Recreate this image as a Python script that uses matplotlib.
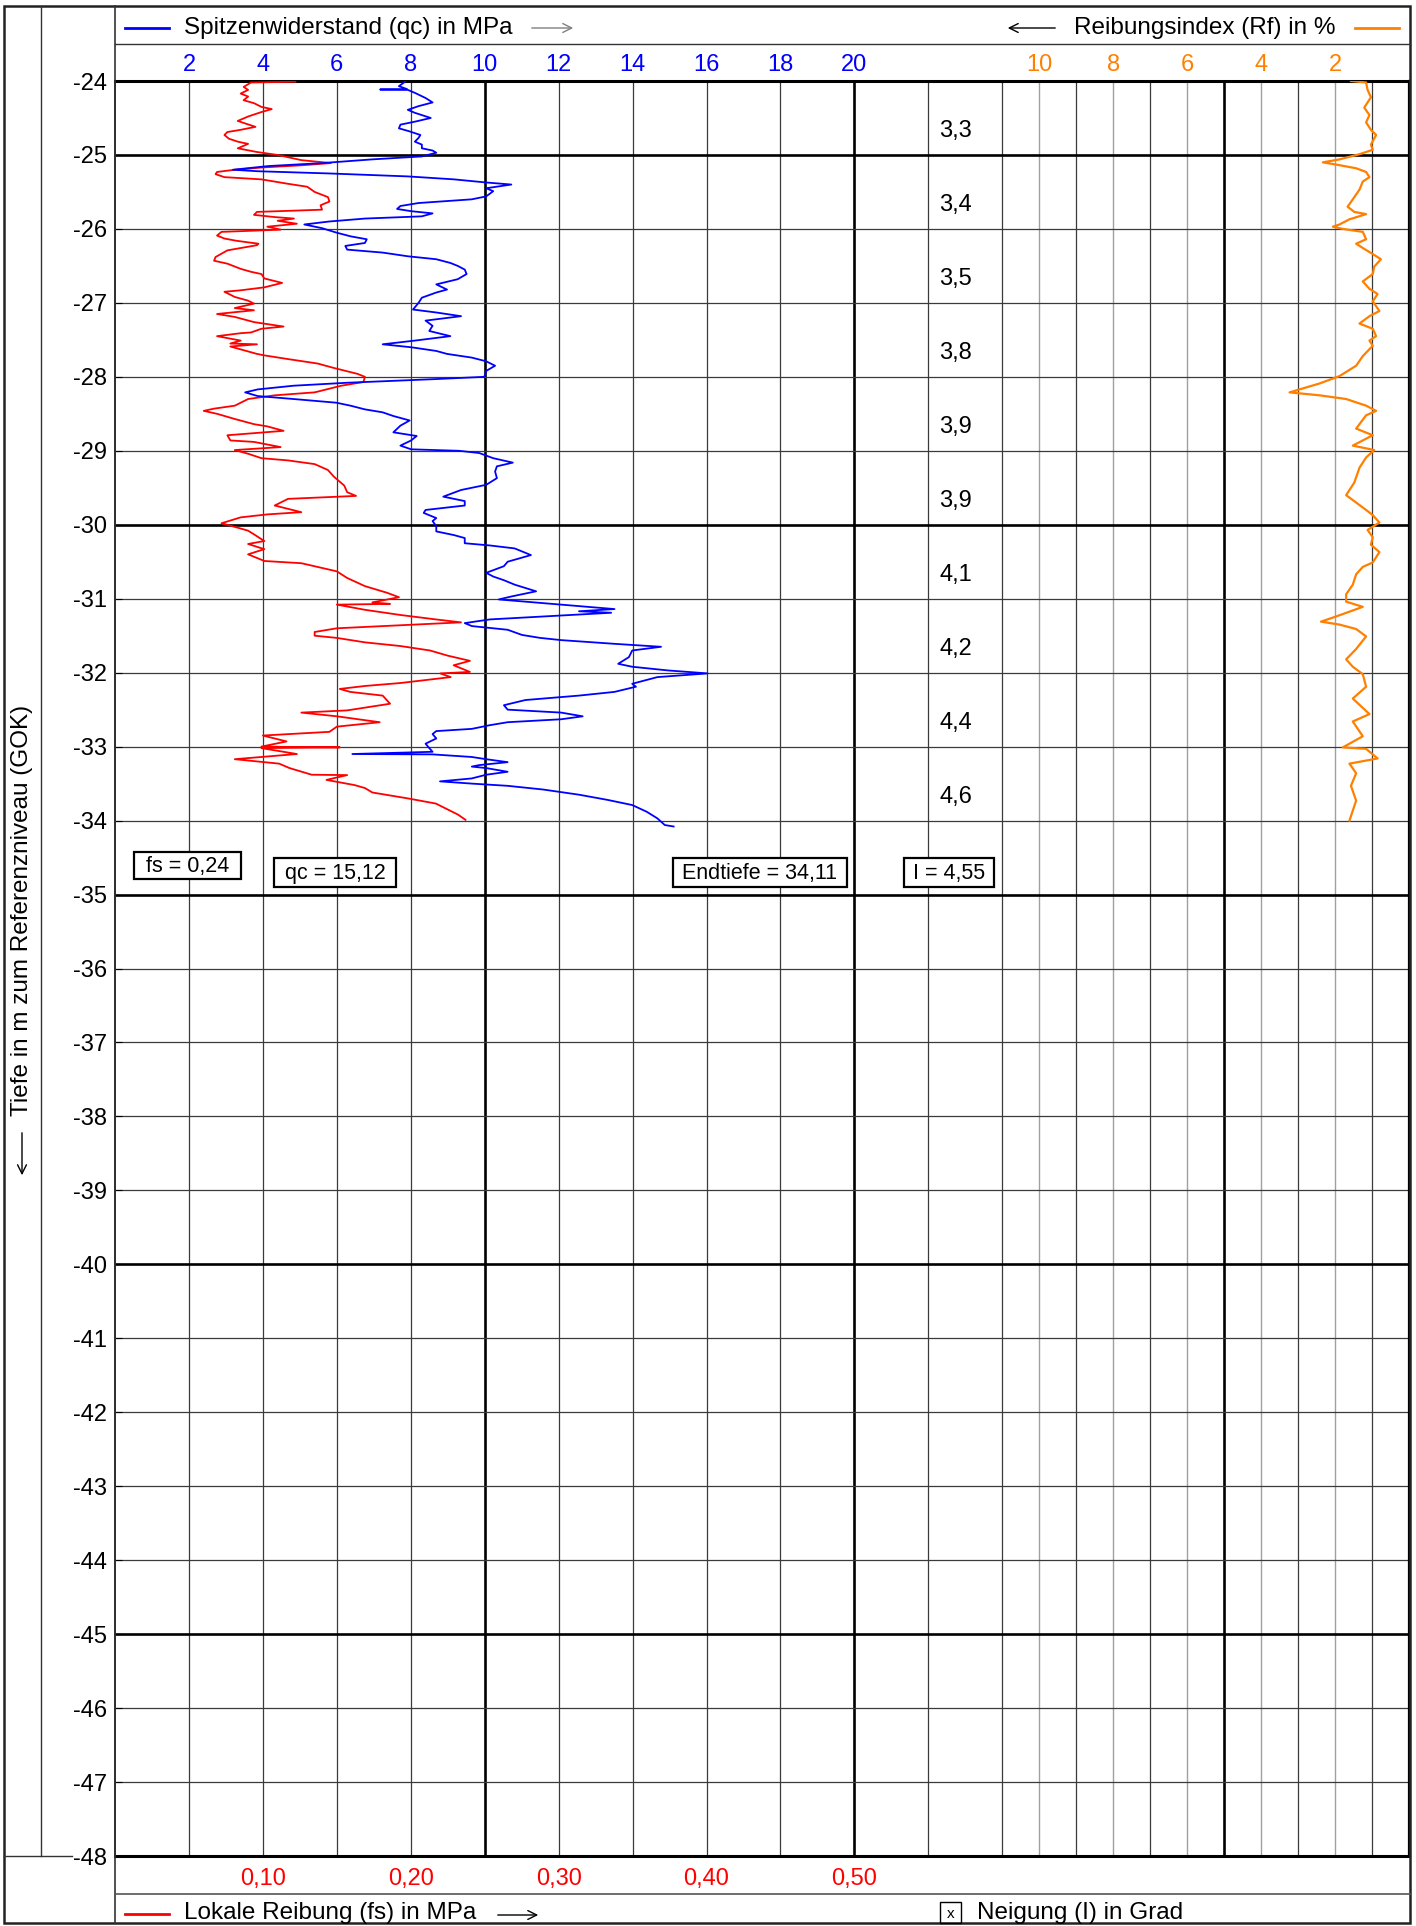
import numpy as np
import matplotlib
matplotlib.use('Agg')
import matplotlib.pyplot as plt
from matplotlib.patches import Rectangle
from matplotlib.ticker import FuncFormatter

plt.rcParams['font.family'] = ['Liberation Sans', 'DejaVu Sans']
plt.rcParams['axes.unicode_minus'] = False

# ---- data (read off the CPT log) ----
# cone resistance qc in MPa
qc_depth = [-24.00, -24.07, -24.11, -24.115, -24.12, -24.16, -24.23, -24.29, -24.34, -24.39,
            -24.43, -24.50, -24.55, -24.59, -24.64, -24.68, -24.73, -24.77, -24.82, -24.86,
            -24.91, -24.94, -24.97, -25.02, -25.06, -25.11, -25.15, -25.20, -25.22, -25.25,
            -25.29, -25.33, -25.37, -25.40, -25.45, -25.49, -25.56, -25.60, -25.65, -25.69,
            -25.73, -25.76, -25.79, -25.83, -25.86, -25.90, -25.94, -25.99, -26.05, -26.10,
            -26.14, -26.19, -26.23, -26.28, -26.32, -26.37, -26.41, -26.46, -26.50, -26.55,
            -26.61, -26.68, -26.75, -26.82, -26.86, -26.93, -27.00, -27.09, -27.13, -27.18,
            -27.24, -27.31, -27.38, -27.45, -27.51, -27.56, -27.60, -27.65, -27.69, -27.74,
            -27.79, -27.85, -27.92, -28.00, -28.03, -28.08, -28.12, -28.17, -28.21, -28.26,
            -28.30, -28.35, -28.39, -28.44, -28.48, -28.53, -28.59, -28.66, -28.75, -28.80,
            -28.86, -28.93, -28.98, -29.00, -29.03, -29.10, -29.16, -29.21, -29.28, -29.37,
            -29.46, -29.53, -29.62, -29.68, -29.74, -29.80, -29.84, -29.91, -29.95, -30.02,
            -30.09, -30.14, -30.18, -30.25, -30.28, -30.32, -30.41, -30.50, -30.56, -30.65,
            -30.70, -30.75, -30.81, -30.90, -30.97, -31.01, -31.08, -31.14, -31.17, -31.19,
            -31.24, -31.28, -31.33, -31.37, -31.42, -31.49, -31.53, -31.56, -31.61, -31.65,
            -31.70, -31.79, -31.88, -31.92, -31.97, -32.01, -32.06, -32.15, -32.19, -32.26,
            -32.31, -32.37, -32.44, -32.50, -32.54, -32.59, -32.63, -32.67, -32.71, -32.76,
            -32.79, -32.83, -32.89, -32.96, -33.02, -33.07, -33.10, -33.105, -33.14, -33.17,
            -33.21, -33.25, -33.27, -33.29, -33.34, -33.38, -33.43, -33.47, -33.50, -33.53,
            -33.58, -33.65, -33.72, -33.79, -33.88, -33.97, -34.06, -34.08]
qc_val = [7.87, 7.68, 7.90, 7.17, 7.92, 8.11, 8.40, 8.59, 8.21, 7.92,
          8.11, 8.54, 8.11, 7.72, 7.68, 7.96, 8.26, 8.21, 8.11, 8.30,
          8.30, 8.59, 8.69, 8.30, 6.95, 5.60, 4.15, 3.19, 3.86, 5.79,
          7.92, 9.17, 9.99, 10.72, 10.04, 10.23, 10.04, 9.65, 8.21, 7.72,
          7.63, 8.01, 8.59, 8.30, 6.76, 5.79, 5.12, 5.60, 5.99, 6.37,
          6.81, 6.76, 6.23, 6.28, 7.24, 7.92, 8.69, 9.07, 9.27, 9.46,
          9.51, 9.27, 8.69, 8.98, 8.69, 8.30, 8.21, 8.06, 8.69, 9.36,
          8.40, 8.59, 8.50, 9.07, 8.11, 7.24, 8.01, 8.69, 8.98, 9.65,
          10.04, 10.28, 10.04, 9.99, 8.69, 6.28, 4.83, 3.86, 3.52, 3.86,
          4.83, 5.99, 6.37, 6.76, 7.24, 7.53, 7.97, 7.72, 7.53, 8.16,
          8.01, 7.72, 8.01, 9.30, 9.85, 10.23, 10.76, 10.33, 10.28, 10.33,
          10.04, 9.36, 8.88, 9.46, 9.46, 8.40, 8.35, 8.69, 8.59, 8.69,
          8.69, 9.17, 9.46, 9.46, 10.14, 10.81, 11.25, 10.62, 10.52, 10.04,
          10.23, 10.52, 10.81, 11.39, 10.72, 10.38, 12.07, 13.51, 12.55, 13.42,
          11.58, 10.14, 9.46, 9.65, 10.62, 11.01, 11.50, 12.07, 13.51, 14.77,
          13.99, 13.90, 13.61, 13.99, 14.96, 16.03, 14.67, 13.99, 14.09, 13.51,
          12.55, 11.10, 10.52, 10.62, 12.07, 12.65, 12.07, 10.62, 10.14, 9.65,
          8.69, 8.59, 8.69, 8.40, 8.50, 8.59, 6.42, 8.59, 9.65, 10.04,
          10.62, 9.85, 9.65, 10.04, 10.62, 10.04, 9.65, 8.79, 9.65, 10.62,
          11.58, 12.55, 13.32, 13.99, 14.38, 14.67, 14.87, 15.11]

# local friction fs in MPa
fs_depth = [-24.01, -24.02, -24.08, -24.12, -24.17, -24.21, -24.26, -24.30, -24.35, -24.38,
            -24.42, -24.48, -24.54, -24.62, -24.66, -24.69, -24.73, -24.78, -24.82, -24.85,
            -24.91, -24.96, -25.00, -25.07, -25.11, -25.14, -25.17, -25.20, -25.23, -25.26,
            -25.30, -25.33, -25.39, -25.43, -25.50, -25.57, -25.63, -25.68, -25.74, -25.77,
            -25.81, -25.84, -25.86, -25.89, -25.93, -25.97, -26.01, -26.04, -26.09, -26.13,
            -26.16, -26.20, -26.22, -26.29, -26.38, -26.43, -26.47, -26.54, -26.58, -26.61,
            -26.67, -26.73, -26.79, -26.83, -26.85, -26.92, -26.97, -27.01, -27.07, -27.10,
            -27.15, -27.19, -27.26, -27.32, -27.35, -27.40, -27.41, -27.45, -27.51, -27.55,
            -27.56, -27.59, -27.69, -27.71, -27.76, -27.82, -27.88, -27.96, -28.00, -28.07,
            -28.12, -28.21, -28.25, -28.30, -28.39, -28.43, -28.46, -28.50, -28.57, -28.64,
            -28.67, -28.73, -28.79, -28.86, -28.88, -28.95, -28.99, -29.04, -29.10, -29.13,
            -29.18, -29.26, -29.35, -29.47, -29.56, -29.61, -29.65, -29.74, -29.83, -29.86,
            -29.90, -29.98, -30.04, -30.08, -30.13, -30.22, -30.26, -30.33, -30.40, -30.49,
            -30.52, -30.63, -30.72, -30.83, -30.92, -30.98, -31.05, -31.07, -31.08, -31.15,
            -31.22, -31.28, -31.32, -31.40, -31.45, -31.50, -31.53, -31.59, -31.64, -31.70,
            -31.77, -31.84, -31.90, -31.99, -32.01, -32.06, -32.14, -32.18, -32.22, -32.26,
            -32.31, -32.42, -32.51, -32.54, -32.59, -32.67, -32.73, -32.80, -32.85, -32.93,
            -33.00, -33.01, -33.02, -33.10, -33.17, -33.23, -33.29, -33.38, -33.385, -33.45,
            -33.52, -33.56, -33.62, -33.70, -33.77, -33.92, -33.99]
fs_val = [0.122, 0.092, 0.087, 0.090, 0.085, 0.090, 0.087, 0.094, 0.099, 0.106,
          0.099, 0.090, 0.083, 0.095, 0.085, 0.076, 0.074, 0.077, 0.083, 0.090,
          0.083, 0.096, 0.110, 0.126, 0.146, 0.126, 0.099, 0.081, 0.069, 0.068,
          0.074, 0.099, 0.117, 0.130, 0.135, 0.144, 0.145, 0.139, 0.140, 0.096,
          0.094, 0.108, 0.121, 0.110, 0.123, 0.103, 0.112, 0.072, 0.069, 0.074,
          0.082, 0.097, 0.096, 0.076, 0.068, 0.067, 0.076, 0.085, 0.092, 0.099,
          0.101, 0.113, 0.101, 0.085, 0.074, 0.081, 0.090, 0.094, 0.081, 0.094,
          0.069, 0.081, 0.094, 0.114, 0.099, 0.092, 0.085, 0.069, 0.085, 0.078,
          0.096, 0.078, 0.096, 0.101, 0.117, 0.137, 0.148, 0.164, 0.169, 0.168,
          0.153, 0.135, 0.108, 0.090, 0.081, 0.067, 0.060, 0.069, 0.081, 0.094,
          0.103, 0.114, 0.076, 0.078, 0.094, 0.112, 0.081, 0.090, 0.099, 0.117,
          0.135, 0.144, 0.148, 0.155, 0.157, 0.163, 0.117, 0.108, 0.126, 0.103,
          0.085, 0.072, 0.083, 0.090, 0.094, 0.101, 0.090, 0.101, 0.090, 0.101,
          0.126, 0.150, 0.157, 0.169, 0.184, 0.192, 0.174, 0.186, 0.150, 0.169,
          0.193, 0.217, 0.234, 0.150, 0.135, 0.135, 0.150, 0.169, 0.193, 0.213,
          0.225, 0.240, 0.229, 0.240, 0.220, 0.227, 0.193, 0.169, 0.152, 0.159,
          0.181, 0.186, 0.157, 0.126, 0.150, 0.179, 0.150, 0.145, 0.100, 0.116,
          0.099, 0.152, 0.099, 0.123, 0.081, 0.111, 0.118, 0.133, 0.157, 0.143,
          0.162, 0.169, 0.174, 0.198, 0.217, 0.232, 0.237]

# friction ratio Rf in %
rf_depth = [-24.00, -24.02, -24.12, -24.22, -24.36, -24.46, -24.56, -24.66, -24.73, -24.86,
            -24.93, -24.99, -25.06, -25.10, -25.13, -25.18, -25.23, -25.30, -25.36, -25.47,
            -25.60, -25.70, -25.77, -25.80, -25.87, -25.94, -25.97, -26.00, -26.04, -26.14,
            -26.20, -26.27, -26.34, -26.41, -26.51, -26.61, -26.71, -26.81, -26.88, -26.98,
            -27.11, -27.18, -27.28, -27.35, -27.45, -27.51, -27.58, -27.72, -27.85, -27.99,
            -28.09, -28.21, -28.25, -28.30, -28.39, -28.46, -28.52, -28.70, -28.79, -28.93,
            -28.99, -29.09, -29.23, -29.43, -29.60, -29.70, -29.80, -29.87, -29.97, -30.07,
            -30.17, -30.27, -30.37, -30.51, -30.57, -30.67, -30.81, -30.94, -31.04, -31.11,
            -31.24, -31.31, -31.35, -31.41, -31.51, -31.68, -31.82, -31.92, -32.02, -32.19,
            -32.35, -32.56, -32.66, -32.86, -33.01, -33.03, -33.16, -33.23, -33.36, -33.53,
            -33.73, -34.00]
rf_val = [1.57, 1.16, 1.12, 1.03, 1.21, 1.07, 1.16, 1.03, 0.89, 1.03,
          0.98, 1.34, 1.88, 2.33, 1.97, 1.43, 1.16, 1.07, 1.25, 1.34,
          1.52, 1.66, 1.48, 1.16, 1.61, 1.88, 2.06, 1.79, 1.25, 1.16,
          1.43, 1.21, 0.98, 0.76, 0.94, 0.98, 1.25, 1.07, 0.85, 0.98,
          0.80, 1.07, 1.34, 0.98, 0.89, 1.07, 0.98, 1.25, 1.43, 1.88,
          2.42, 3.23, 2.42, 1.70, 1.16, 0.89, 1.16, 1.43, 0.98, 1.52,
          0.94, 1.16, 1.34, 1.48, 1.70, 1.43, 1.16, 0.98, 0.80, 1.12,
          0.98, 1.03, 0.80, 0.98, 1.25, 1.43, 1.52, 1.70, 1.70, 1.25,
          1.97, 2.38, 1.88, 1.43, 1.16, 1.43, 1.70, 1.52, 1.25, 1.16,
          1.52, 1.07, 1.52, 1.25, 1.79, 1.16, 0.85, 1.61, 1.43, 1.57,
          1.43, 1.61]

# inclination per metre
incl_depth = [-24, -25, -26, -27, -28, -29, -30, -31, -32, -33]
incl_val = ['3,3', '3,4', '3,5', '3,8', '3,9', '3,9', '4,1', '4,2', '4,4', '4,6']

qc_ticks = [2, 4, 6, 8, 10, 12, 14, 16, 18, 20]
rf_ticks = [10, 8, 6, 4, 2]
fs_ticks = [0.10, 0.20, 0.30, 0.40, 0.50]
depth_ticks = list(range(-24, -49, -1))

summary = ['fs = 0,24', 'qc = 15,12', 'Endtiefe = 34,11', 'I = 4,55']

# ---- layout ----
W, H = 1416, 1926
X_MAX = 35      # chart width in qc units
FS_SCALE = 40   # 0.10 MPa fs is drawn at 4 MPa qc
BLUE, RED, ORANGE = '#0000ff', '#ff0000', '#ff8000'
TITLE_FS = 17.5
TICK_FS = 17

fig = plt.figure(figsize=(W / 100, H / 100), dpi=100)
ax = fig.add_axes([115 / W, 1 - 1856 / H, (1409 - 115) / W, (1856 - 81) / H])
ax.set_xlim(0, X_MAX)
ax.set_ylim(-48, -24)

# grid
for x in [2, 4, 6, 8, 12, 14, 16, 18, 22, 24, 26, 28, 32, 34]:
    ax.axvline(x, color='#3a3a3a', lw=0.9, zorder=1)
for x in [25, 27, 29, 31, 33]:
    ax.axvline(x, color='#a0a0a0', lw=1.0, zorder=1)
for x in [10, 20, 30]:
    ax.axvline(x, color='black', lw=1.9, zorder=1)
for d in depth_ticks[1:-1]:
    bold = d % 5 == 0
    ax.axhline(d, color='black' if bold else '#3a3a3a', lw=1.9 if bold else 0.9, zorder=1)

for s in ['top', 'bottom']:
    ax.spines[s].set_linewidth(2.2)
ax.spines['left'].set_linewidth(1.2)
ax.spines['right'].set_linewidth(1.6)

# curves
ax.plot(np.array(fs_val) * FS_SCALE, fs_depth, color=RED, lw=1.3, zorder=3)
ax.plot(qc_val, qc_depth, color=BLUE, lw=1.3, zorder=4)
ax.plot(X_MAX - np.array(rf_val), rf_depth, color=ORANGE, lw=1.6, zorder=3)

for d, v in zip(incl_depth, incl_val):
    ax.text(22.3, d - 0.68, v, fontsize=17, ha='left', va='center', zorder=5)

# axes ticks
ax.set_xticks(qc_ticks)
ax.set_xticklabels([str(v) for v in qc_ticks])
ax.tick_params(axis='x', top=True, bottom=False, labeltop=True, labelbottom=False,
               length=0, pad=3.5, labelsize=TICK_FS, labelcolor=BLUE)

ax.set_yticks(depth_ticks)
ax.set_yticklabels([str(d) for d in depth_ticks])
ax.tick_params(axis='y', direction='in', length=5, pad=6, labelsize=TICK_FS, right=False)

sec_rf = ax.secondary_xaxis('top', functions=(lambda u: X_MAX - u, lambda r: X_MAX - r))
sec_rf.set_xticks(rf_ticks)
sec_rf.set_xticklabels([str(v) for v in rf_ticks])
sec_rf.tick_params(length=0, pad=3.5, labelsize=TICK_FS, labelcolor=ORANGE)
sec_rf.spines['top'].set_visible(False)

sec_fs = ax.secondary_xaxis('bottom', functions=(lambda u: u / FS_SCALE, lambda f: f * FS_SCALE))
sec_fs.set_xticks(fs_ticks)
sec_fs.xaxis.set_major_formatter(FuncFormatter(lambda v, p: f'{v:.2f}'.replace('.', ',')))
sec_fs.tick_params(length=0, pad=8.5, labelsize=TICK_FS, labelcolor=RED)
sec_fs.spines['bottom'].set_visible(False)

# ---- frame, header and footer in pixel coordinates ----
ov = fig.add_axes([0, 0, 1, 1], zorder=5)
ov.set_xlim(0, W)
ov.set_ylim(H, 0)
ov.axis('off')

ov.add_patch(Rectangle((4, 6), 1406, 1917, fill=False, lw=1.8, ec='#222222'))
ov.plot([41, 41], [6, 1856], color='#333333', lw=1.0)
ov.plot([4, 72], [1856, 1856], color='#333333', lw=1.0)
ov.plot([115, 115], [6, 1923], color='#333333', lw=1.2)
ov.plot([115, 1410], [44, 44], color='#333333', lw=1.0)
ov.plot([115, 1410], [1894, 1894], color='#555555', lw=1.2)

# header legends
ov.plot([125, 169], [28, 28], color=BLUE, lw=2)
ov.text(184, 28, 'Spitzenwiderstand (qc) in MPa', fontsize=TITLE_FS, va='center', ha='left')
ov.annotate('', xy=(576, 28), xytext=(529, 28),
            arrowprops=dict(arrowstyle='->', color='#808080', lw=1.0, mutation_scale=16))
ov.annotate('', xy=(1005, 28), xytext=(1058, 28),
            arrowprops=dict(arrowstyle='->', color='black', lw=1.0, mutation_scale=16))
ov.text(1074, 28, 'Reibungsindex (Rf) in %', fontsize=TITLE_FS, va='center', ha='left')
ov.plot([1355, 1399], [28, 28], color=ORANGE, lw=2)

# footer legends
ov.plot([125, 169], [1914, 1914], color=RED, lw=2)
ov.text(184, 1913, 'Lokale Reibung (fs) in MPa', fontsize=TITLE_FS, va='center', ha='left')
ov.annotate('', xy=(541, 1915), xytext=(495, 1915),
            arrowprops=dict(arrowstyle='->', color='black', lw=1.0, mutation_scale=16))
ov.add_patch(Rectangle((940, 1902), 21, 21, fill=False, lw=1.0, ec='black'))
ov.text(950.5, 1914, 'x', fontsize=11, ha='center', va='center')
ov.text(977, 1913, 'Neigung (I) in Grad', fontsize=TITLE_FS, va='center', ha='left')

# depth axis title
ov.text(22, 910, 'Tiefe in m zum Referenzniveau (GOK)', fontsize=TITLE_FS, rotation=90,
        ha='center', va='center')
ov.annotate('', xy=(22, 1178), xytext=(22, 1130),
            arrowprops=dict(arrowstyle='->', color='black', lw=1.0, mutation_scale=16))

# summary boxes
boxes = [(134, 241, 852, 879), (274, 396, 858, 887), (673, 847, 858, 887), (904, 994, 858, 887)]
for txt, (x0, x1, y0, y1) in zip(summary, boxes):
    ov.add_patch(Rectangle((x0, y0), x1 - x0, y1 - y0, fc='white', ec='black', lw=1.6))
    ov.text((x0 + x1) / 2, (y0 + y1) / 2 + 1, txt, fontsize=15.5, ha='center', va='center')

fig.savefig('out.png', dpi=100)
